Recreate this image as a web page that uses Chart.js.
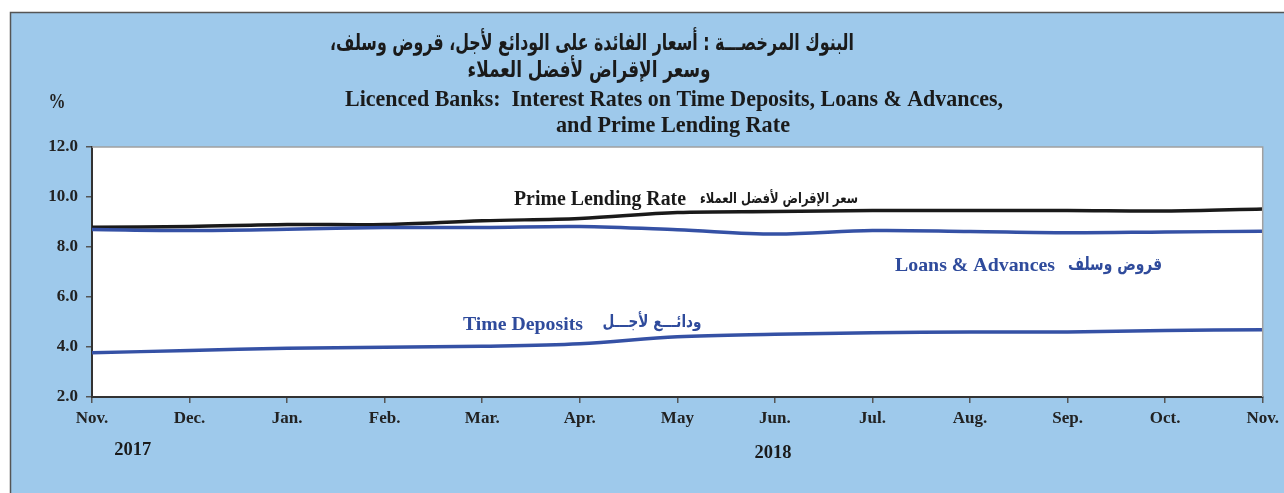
<!DOCTYPE html>
<html>
<head>
<meta charset="utf-8">
<script src="https://cdn.jsdelivr.net/npm/chart.js@4.4.1/dist/chart.umd.min.js"></script>
<style>
  html, body { margin: 0; padding: 0; background: #fff; }
  #wrap { width: 1284px; height: 493px; }
</style>
</head>
<body>
<div id="wrap"><canvas id="myChart" width="1284" height="493"></canvas></div>
<script>
'use strict';

// months Nov. 2017 .. Nov. 2018
const months = ['Nov.', 'Dec.', 'Jan.', 'Feb.', 'Mar.', 'Apr.', 'May', 'Jun.', 'Jul.', 'Aug.', 'Sep.', 'Oct.', 'Nov.'];
const primeRate     = [8.79, 8.82, 8.90, 8.90, 9.05, 9.14, 9.38, 9.42, 9.46, 9.46, 9.46, 9.44, 9.52];
const loansAdvances = [8.70, 8.66, 8.71, 8.78, 8.78, 8.82, 8.69, 8.52, 8.66, 8.62, 8.57, 8.60, 8.63];
const timeDeposits  = [3.77, 3.86, 3.95, 3.99, 4.03, 4.13, 4.41, 4.51, 4.57, 4.60, 4.60, 4.66, 4.69];
const yTicks = [2, 4, 6, 8, 10, 12];

const serif = '"Liberation Serif", "Times New Roman", serif';
const arab = '"DejaVu Sans", sans-serif';
const navy = '#3551a5';
const textBlue = '#2f4b9c';

// draw text squeezed to a given width, centred on x
function fitText(ctx, text, x, y, w, font, color) {
  ctx.save();
  ctx.font = font;
  ctx.fillStyle = color;
  ctx.textBaseline = 'middle';
  ctx.textAlign = 'left';
  ctx.direction = /[\u0600-\u06FF]/.test(text) ? 'rtl' : 'ltr';
  const m = ctx.measureText(text).width;
  ctx.translate(x - w / 2, y);
  ctx.scale(w / m, 1);
  ctx.fillText(text, 0, 0);
  ctx.restore();
}

const backdrop = {
  id: 'backdrop',
  beforeDraw(chart) {
    const c = chart.ctx;
    const a = chart.chartArea;
    c.save();
    c.fillStyle = '#ffffff';
    c.fillRect(0, 0, chart.width, chart.height);
    c.fillStyle = '#9ec9eb';
    c.fillRect(10, 12, chart.width - 10, chart.height - 12);
    c.strokeStyle = '#555';
    c.lineWidth = 1.5;
    c.beginPath();
    c.moveTo(10.5, chart.height);
    c.lineTo(10.5, 12.5);
    c.lineTo(chart.width, 12.5);
    c.stroke();
    c.fillStyle = '#ffffff';
    c.fillRect(a.left, a.top, a.right - a.left, a.bottom - a.top);
    c.restore();
  },
  afterDraw(chart) {
    const c = chart.ctx;
    const a = chart.chartArea;
    const xs = chart.scales.x;
    c.save();
    c.strokeStyle = '#a0a0a0';
    c.lineWidth = 1.5;
    c.beginPath();
    c.moveTo(a.left, a.top);
    c.lineTo(a.right, a.top);
    c.lineTo(a.right, a.bottom);
    c.stroke();
    c.restore();

    // titles
    fitText(c, 'البنوك المرخصـــة : أسعار الفائدة على الودائع لأجل، قروض وسلف،', 592, 44, 524, 'bold 23px ' + arab, '#1a1a1a');
    fitText(c, 'وسعر الإقراض لأفضل العملاء', 589, 71, 243, 'bold 23px ' + arab, '#1a1a1a');
    fitText(c, 'Licenced Banks:  Interest Rates on Time Deposits, Loans & Advances,', 674, 100, 658, 'bold 24px ' + serif, '#1a1a1a');
    fitText(c, 'and Prime Lending Rate', 673, 126, 234, 'bold 24px ' + serif, '#1a1a1a');
    fitText(c, '%', 57, 103, 17, 'bold 20px ' + serif, '#222');

    // series labels
    fitText(c, 'Prime Lending Rate', 600, 200, 172, 'bold 20px ' + serif, '#1a1a1a');
    fitText(c, 'سعر الإقراض لأفضل العملاء', 779, 199, 158, 'bold 15px ' + arab, '#1a1a1a');
    fitText(c, 'Loans & Advances', 975, 266, 160, 'bold 19px ' + serif, textBlue);
    fitText(c, 'قروض وسلف', 1115, 265, 94, 'bold 18px ' + arab, textBlue);
    fitText(c, 'Time Deposits', 523, 325, 120, 'bold 19px ' + serif, textBlue);
    fitText(c, 'ودائـــع لأجـــل', 652, 323, 99, 'bold 17px ' + arab, textBlue);

    // years
    fitText(c, '2017', (xs.getPixelForValue(0) + xs.getPixelForValue(1)) / 2 - 8, 450, 37, 'bold 19px ' + serif, '#1a1a1a');
    fitText(c, '2018', xs.getPixelForValue(7) - 2, 453, 37, 'bold 19px ' + serif, '#1a1a1a');
  }
};

const ctx = document.getElementById('myChart').getContext('2d');

new Chart(ctx, {
  type: 'line',
  data: {
    labels: months,
    datasets: [
      { label: 'Time Deposits', data: timeDeposits, borderColor: navy, borderWidth: 3.5, tension: 0.35, pointRadius: 0 },
      { label: 'Loans & Advances', data: loansAdvances, borderColor: navy, borderWidth: 3.5, tension: 0.35, pointRadius: 0 },
      { label: 'Prime Lending Rate', data: primeRate, borderColor: '#1a1a1a', borderWidth: 3.5, tension: 0.35, pointRadius: 0 }
    ]
  },
  options: {
    responsive: false,
    animation: false,
    layout: { padding: { top: 147, right: 17, left: 0, bottom: 0 } },
    plugins: {
      legend: { display: false },
      tooltip: { enabled: false }
    },
    scales: {
      x: {
        offset: false,
        grid: { offset: false, drawOnChartArea: false, tickLength: 6, color: '#555', lineWidth: 1.5 },
        border: { color: '#333', width: 2 },
        ticks: {
          color: '#222', padding: 5, maxRotation: 0, autoSkip: false,
          font: { family: serif, size: 17, weight: 'bold' }
        },
        afterFit(scale) { scale.height = 96; }
      },
      y: {
        min: 2,
        max: 12,
        grid: { drawOnChartArea: false, tickLength: 6, color: '#555', lineWidth: 1.5 },
        border: { color: '#333', width: 2 },
        afterBuildTicks(scale) { scale.ticks = yTicks.map(v => ({ value: v })); },
        ticks: {
          color: '#222', padding: 8,
          font: { family: serif, size: 17, weight: 'bold' },
          callback: v => v.toFixed(1)
        },
        afterFit(scale) { scale.width = 92; }
      }
    }
  },
  plugins: [backdrop]
});
</script>
</body>
</html>
